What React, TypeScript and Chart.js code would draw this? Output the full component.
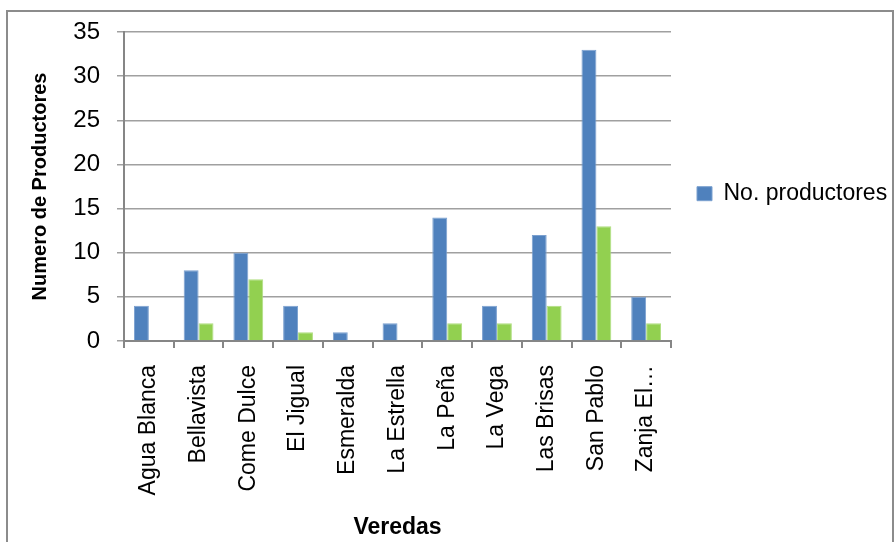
import React, { useEffect, useRef } from "react";
import { Chart, registerables } from "chart.js";

Chart.register(...registerables);

const categories = [
  "Agua Blanca",
  "Bellavista",
  "Come Dulce",
  "El Jigual",
  "Esmeralda",
  "La Estrella",
  "La Peña",
  "La Vega",
  "Las Brisas",
  "San Pablo",
  "Zanja El…",
];
const productores = [4, 8, 10, 4, 1, 2, 14, 4, 12, 33, 5];
const segundaSerie = [0, 2, 7, 1, 0, 0, 2, 2, 4, 13, 2];
const yTicks = [0, 5, 10, 15, 20, 25, 30, 35];

const FONT = "'Liberation Sans', Arial, sans-serif";
const GRID = "#a0a0a0";
const AXIS = "#868686";

export default function App() {
  const ref = useRef<HTMLCanvasElement | null>(null);

  useEffect(() => {
    if (!ref.current) return;
    const chart = new Chart(ref.current, {
      type: "bar",
      data: {
        labels: categories,
        datasets: [
          {
            label: "No. productores",
            data: productores,
            backgroundColor: "#4F81BD",
            borderColor: "#7BA0CF",
            borderWidth: 1,
            categoryPercentage: 0.6,
            barPercentage: 1.0,
          },
          {
            label: "Serie 2",
            data: segundaSerie,
            backgroundColor: "#92D050",
            borderColor: "#B0DE80",
            borderWidth: 1,
            categoryPercentage: 0.6,
            barPercentage: 1.0,
          },
        ],
      },
      options: {
        responsive: false,
        animation: false,
        devicePixelRatio: 1,
        layout: { padding: { left: 28, top: 32, right: 0, bottom: 1 } },
        plugins: {
          tooltip: { enabled: false },
          legend: {
            position: "right",
            fullSize: false,
            maxWidth: 223,
            title: {
              display: true,
              text: "",
              padding: { top: 0, bottom: 0 },
              font: { size: 12 },
            },
            labels: {
              filter: (item) => item.datasetIndex === 0,
              boxWidth: 15,
              boxHeight: 14,
              padding: 26,
              color: "#000",
              font: { family: FONT, size: 23 },
            },
          },
        },
        scales: {
          x: {
            afterFit: (axis) => {
              axis.height = 200;
            },
            grid: {
              drawOnChartArea: false,
              drawTicks: true,
              tickLength: 7,
              color: AXIS,
              lineWidth: 2,
              offset: true,
            },
            border: { color: AXIS, width: 2 },
            ticks: {
              maxRotation: 90,
              minRotation: 90,
              autoSkip: false,
              padding: 17,
              color: "#000",
              font: { family: FONT, size: 23 },
            },
            title: {
              display: true,
              text: "Veredas",
              color: "#000",
              font: { family: FONT, size: 23, weight: "bold" },
              padding: { top: 0, bottom: 0 },
            },
          },
          y: {
            min: 0,
            max: 35,
            afterFit: (axis) => {
              axis.width = 96;
            },
            afterBuildTicks: (axis) => {
              axis.ticks = yTicks.map((v) => ({ value: v }));
            },
            grid: {
              color: GRID,
              lineWidth: 1.5,
              tickLength: 7,
              drawTicks: true,
            },
            border: { color: AXIS, width: 2 },
            ticks: {
              padding: 17,
              color: "#000",
              font: { family: FONT, size: 24 },
            },
            title: {
              display: true,
              text: "Numero de Productores",
              color: "#000",
              font: { family: FONT, size: 20, weight: "bold" },
              padding: { top: 0, bottom: 0 },
            },
          },
        },
      },
    });
    return () => chart.destroy();
  }, []);

  return (
    <div
      style={{
        position: "absolute",
        left: 0,
        top: 0,
        width: 894,
        height: 542,
        overflow: "hidden",
        background: "#fff",
      }}
    >
      <div
        style={{
          position: "absolute",
          left: 6,
          top: 10,
          width: 888,
          height: 600,
          border: "2px solid #8c8c8c",
          boxSizing: "border-box",
        }}
      />
      <canvas
        ref={ref}
        width={894}
        height={542}
        style={{ position: "absolute", left: 0, top: 0, width: 894, height: 542 }}
      />
    </div>
  );
}
